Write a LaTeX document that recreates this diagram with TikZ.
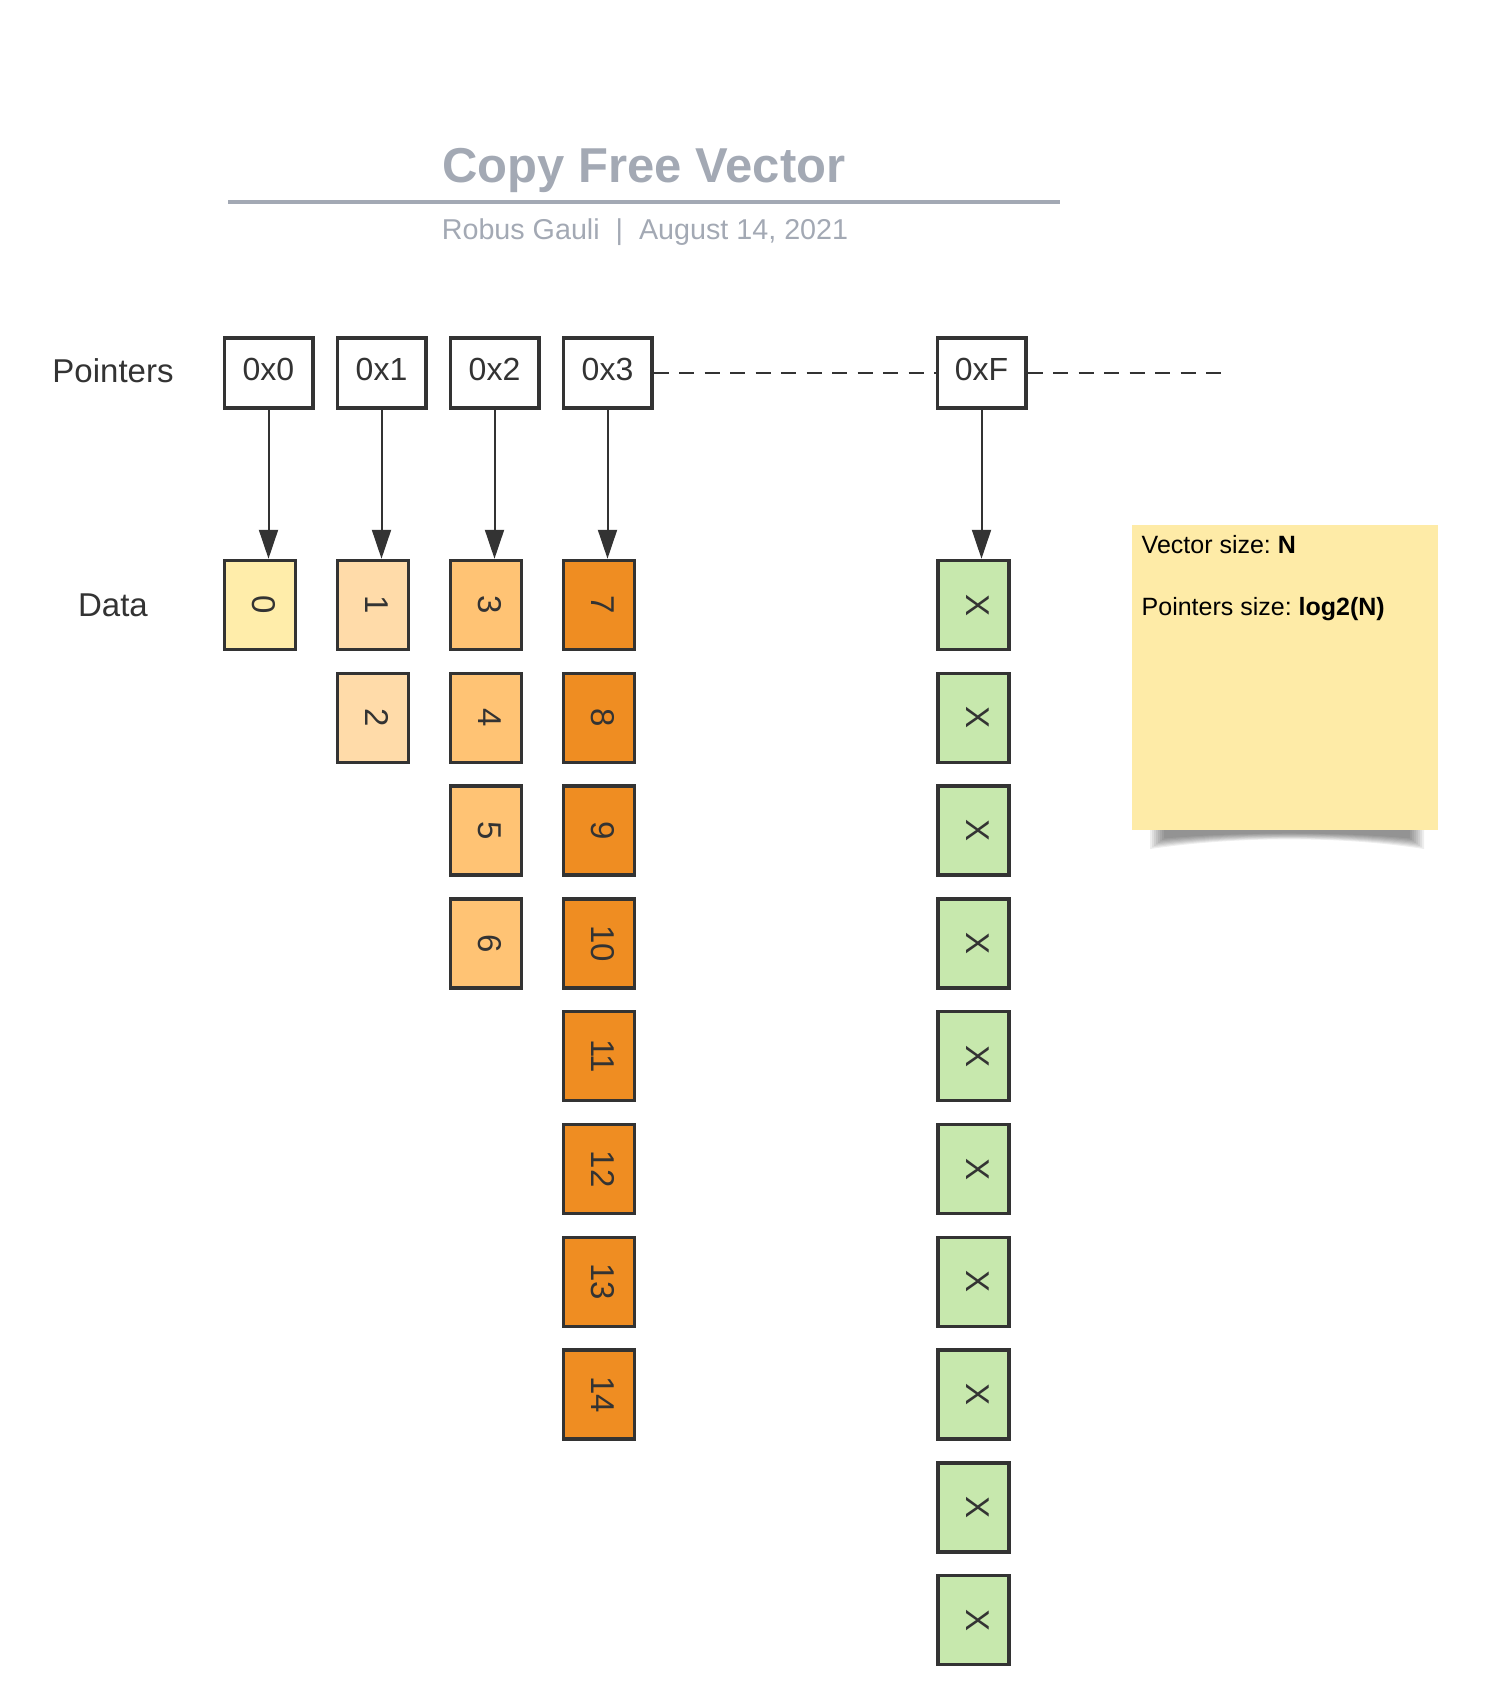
\documentclass[tikz,border=0pt]{standalone}
\usepackage{fontspec}
\setmainfont{Liberation Sans}
\usetikzlibrary{arrows.meta}
\definecolor{ink}{HTML}{333333}
\definecolor{titlegray}{HTML}{A3A9B4}
\definecolor{cA}{HTML}{FFEDAA}
\definecolor{cB}{HTML}{FFDBA9}
\definecolor{cC}{HTML}{FFC374}
\definecolor{cD}{HTML}{EF8D22}
\definecolor{cX}{HTML}{C7E8AD}
\definecolor{notebg}{HTML}{FEEBA7}
\frenchspacing
\begin{document}
\begin{tikzpicture}[x=1pt,y=-1pt,
  ptr/.style={draw=ink, line width=3.5pt, fill=white, minimum width=88.5pt, minimum height=70pt,
    inner sep=0pt, text=ink, font=\fontsize{32}{38}\selectfont, text height=23pt, text depth=8pt},
  cell/.style={draw=ink, line width=3.5pt, minimum width=71pt, minimum height=89pt, inner sep=0pt},
  num/.style={text=ink, font=\fontsize{33}{40}\selectfont, rotate=-90, inner sep=0pt},
  link/.style={draw=ink, line width=2pt, -{Triangle[length=29pt,width=19pt]}},
  dashline/.style={draw=ink, line width=2.5pt, dash pattern=on 15pt off 10.5pt},
  lbl/.style={text=ink, font=\fontsize{33}{40}\selectfont, anchor=base, inner sep=0pt},
  notetxt/.style={text=black, font=\fontsize{25}{31}\selectfont, anchor=base west, inner sep=0pt}]
\useasboundingbox (0,0) rectangle (1506,1699);

% title block
\node[text=titlegray, font=\fontsize{49}{57}\selectfont\bfseries, anchor=base, inner sep=0pt] (title) at (644,183) {Copy Free Vector};
\draw[titlegray, line width=4pt] (228,202) -- (1060,202);
\node[text=titlegray, font=\fontsize{28.7}{34}\selectfont, anchor=base, inner sep=0pt] (sub) at (645,240) {Robus Gauli\ \ |\ \ August 14, 2021};

% row labels
\node[lbl] (lp) at (113,382) {Pointers};
\node[lbl] (ld) at (113,616) {Data};

% pointers
\node[ptr] (p0) at (268.5,373) {0x0};
\node[ptr] (p1) at (381.5,373) {0x1};
\node[ptr] (p2) at (494.5,373) {0x2};
\node[ptr] (p3) at (607.5,373) {0x3};
\node[ptr] (pF) at (981.5,373) {0xF};
\coordinate (dend) at (1229,373);
\draw[dashline] (p3.east) -- (pF.west);
\draw[dashline] (pF.east) -- (dend);

% data cells
\foreach \n [count=\i from 0] in {0} {
  \node[cell, fill=cA] (a\i) at (260,605+112.8*\i) {};
  \node[num] at ([xshift=4pt]a\i.center) {\n};}
\foreach \n [count=\i from 0] in {1,2} {
  \node[cell, fill=cB] (b\i) at (373,605+112.8*\i) {};
  \node[num] at ([xshift=4pt]b\i.center) {\n};}
\foreach \n [count=\i from 0] in {3,4,5,6} {
  \node[cell, fill=cC] (c\i) at (486,605+112.8*\i) {};
  \node[num] at ([xshift=4pt]c\i.center) {\n};}
\foreach \n [count=\i from 0] in {7,8,9,10,11,12,13,14} {
  \node[cell, fill=cD] (d\i) at (599,605+112.8*\i) {};
  \node[num] at ([xshift=4pt]d\i.center) {\n};}
\foreach \i in {0,...,9} {
  \node[cell, fill=cX] (x\i) at (973.5,605+112.8*\i) {};
  \node[num] at ([xshift=4pt]x\i.center) {X};}

% links
\draw[link] (p0) -- (p0 |- a0.north);
\draw[link] (p1) -- (p1 |- b0.north);
\draw[link] (p2) -- (p2 |- c0.north);
\draw[link] (p3) -- (p3 |- d0.north);
\draw[link] (pF) -- (pF |- x0.north);

% sticky note with curled shadow
\foreach \k in {0,...,7} {
  \fill[black, opacity=0.065] (1150+\k*2,815) -- (1424-\k*2,815) -- (1424-\k*2,849-\k*1.5)
    .. controls (1340,836-\k*0.6) and (1240,836-\k*0.6) .. (1150+\k*2,849-\k*1.5) -- cycle;}
\node[fill=notebg, minimum width=306pt, minimum height=305pt, inner sep=0pt, anchor=north west] (note) at (1132,525) {};
\node[notetxt] (n1) at (1141.5,553.8) {Vector size: \textbf{N}};
\node[notetxt] (n2) at (1141.5,615.8) {Pointers size: \textbf{log2(N)}};
\end{tikzpicture}
\end{document}
